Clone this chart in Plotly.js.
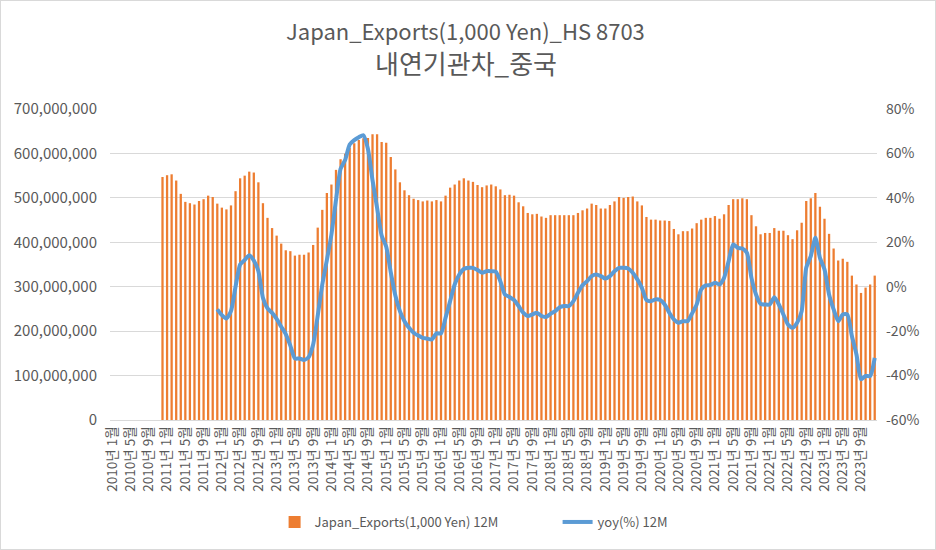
<!DOCTYPE html>
<html>
<head>
<meta charset="utf-8">
<script src="https://cdn.plot.ly/plotly-3.0.1.min.js"></script>
<style>
html,body{margin:0;padding:0;background:#fff;}
#chart{width:936px;height:550px;box-sizing:border-box;border:1px solid #d9d9d9;}
</style>
</head>
<body>
<div id="chart"></div>
<script>
// Category labels: months 2010-01 .. 2023-12
const years = [2010,2011,2012,2013,2014,2015,2016,2017,2018,2019,2020,2021,2022,2023];
const monthNums = [1,2,3,4,5,6,7,8,9,10,11,12];
const categories = [];
years.forEach(y => monthNums.forEach(m => categories.push(y + '년 ' + m + '월')));

// Japan_Exports(1,000 Yen) 12M, in millions (x 1,000,000), from 2010년 12월
const exportsStart = '2010년 12월';
const exportsM = [
 547,551,553,539,509,491,488,485,493,497,505,502,
 487,478,474,483,515,544,550,559,557,535,488,455,
 432,415,397,382,380,370,372,372,377,394,433,473,
 511,530,563,587,599,613,623,630,634,635,643,643,
 626,624,592,564,535,517,506,498,495,492,494,492,
 495,492,505,523,530,539,544,539,536,529,524,528,
 530,526,519,506,507,505,490,481,466,463,464,458,
 455,461,461,461,461,461,461,466,472,476,487,484,
 476,476,484,492,502,500,502,503,492,483,457,451,
 451,449,449,448,430,418,425,425,431,443,451,455,
 455,459,453,463,484,497,497,499,497,461,436,418,
 421,421,432,426,426,416,407,427,444,493,499,511,
 480,453,419,386,359,363,356,325,305,286,298,305,
 325
];

// yoy(%) 12M, from 2011년 12월
const yoyStart = '2011년 12월';
const yoy = [
 -10.2,-12.8,-14.3,-11,0,10,12,14.2,11.8,7,-5,-9.8,
 -11.8,-14.5,-18,-21.3,-26.5,-32.3,-32.3,-33,-31.7,-26,-13,1,
 12,23.5,39,53,57,64,66,67.3,68.2,62,48,35.5,
 23,18,6.5,-4,-11,-15.5,-18.5,-20.7,-22,-23,-23.4,-23.7,
 -21,-21,-14,-6.5,1,5.5,8,8.5,8.5,7.5,6.3,7,
 7,6.8,2.5,-3.5,-4.6,-6,-8.7,-11.7,-13.2,-12.5,-11.7,-13.2,
 -13.6,-12.2,-11,-9.2,-8.7,-8.7,-6.5,-2.7,0.7,2.5,4.8,5.5,
 4.8,3.7,4.8,7,8.5,8.5,8.2,6.3,3.3,-0.5,-6,-6.5,
 -5.7,-6,-8,-11.7,-14.7,-16.2,-15.5,-15.5,-12,-8,-1.2,0.6,
 0.75,1.8,1,4,11.5,19,17.5,17.2,15.3,4,-3.5,-7.7,
 -8,-8,-4.7,-8,-12.5,-17,-18.5,-16.2,-11,8.5,13.8,22,
 13,7.8,-3.5,-10.2,-15.5,-12.5,-12.5,-22.2,-30.5,-41.7,-40.2,-40.2,
 -32
];

const tickLabels = categories.filter((c, i) => i % 4 === 0);
const leftTicks = [0,100000000,200000000,300000000,400000000,500000000,600000000,700000000];
const rightTicks = [-60,-40,-20,0,20,40,60,80];
const rightTickText = ['-60%','-40%','-20%','0%','20%','40%','60%','80%'];
const titleLine1 = 'Japan_Exports(1,000 Yen)_HS 8703';
const titleLine2 = '내연기관차_중국';

const i0 = categories.indexOf(exportsStart);
const barX = categories.slice(i0, i0 + exportsM.length);
const barY = exportsM.map(v => v * 1000000);
const j0 = categories.indexOf(yoyStart);
const lineX = categories.slice(j0, j0 + yoy.length);

const FONT = '"Noto Sans CJK KR", "Noto Sans", sans-serif';
const GREY = '#595959';

const traces = [
 {
  type: 'bar', name: 'Japan_Exports(1,000 Yen) 12M',
  x: barX, y: barY,
  marker: {color: '#ED7D31', line: {width: 0}},
  yaxis: 'y'
 },
 {
  type: 'scatter', mode: 'lines', name: 'yoy(%) 12M',
  x: lineX, y: yoy,
  line: {color: '#5B9BD5', width: 4, shape: 'spline', smoothing: 0.6},
  yaxis: 'y2'
 }
];

const layout = {
 width: 934, height: 548,
 margin: {l: 109, r: 58, t: 108, b: 129},
 paper_bgcolor: '#fff', plot_bgcolor: '#fff',
 font: {family: FONT, color: GREY, size: 13},
 title: {text: ''},
 annotations: [
  {text: titleLine1, xref: 'paper', yref: 'paper', x: 0.4638, y: 1.254, xanchor: 'center', yanchor: 'middle',
   showarrow: false, font: {family: FONT, size: 22, color: GREY}},
  {text: titleLine2, xref: 'paper', yref: 'paper', x: 0.4638, y: 1.151, xanchor: 'center', yanchor: 'middle',
   showarrow: false, font: {family: FONT, size: 26, color: GREY}}
 ],
 bargap: 0.5,
 showlegend: true,
 legend: {orientation: 'h', x: 0.2146, xanchor: 'left', y: -0.328, yanchor: 'middle',
          entrywidth: 238, entrywidthmode: 'pixels',
          font: {family: FONT, size: 13, color: GREY}, traceorder: 'normal'},
 xaxis: {
  type: 'category', categoryorder: 'array', categoryarray: categories,
  range: [-0.5, categories.length - 0.5],
  tickmode: 'array', tickvals: tickLabels, ticktext: tickLabels,
  tickangle: -90, tickfont: {size: 13.5, color: GREY, family: FONT},
  showgrid: false, showline: true, linecolor: '#d9d9d9', linewidth: 1,
  ticks: '', zeroline: false, fixedrange: true
 },
 yaxis: {
  range: [0, 700000000], tickmode: 'array', tickvals: leftTicks,
  tickformat: ',d', tickfont: {size: 15, color: GREY, family: FONT},
  ticklabelstandoff: 12,
  showgrid: true, gridcolor: '#d9d9d9', gridwidth: 1,
  zeroline: false, showline: false, ticks: '', automargin: false
 },
 yaxis2: {
  overlaying: 'y', side: 'right', range: [-60, 80],
  tickmode: 'array', tickvals: rightTicks, ticktext: rightTickText,
  tickfont: {size: 14, color: GREY, family: FONT},
  ticklabelstandoff: 8,
  showgrid: false, zeroline: false, showline: false, ticks: '', automargin: false
 }
};

Plotly.newPlot('chart', traces, layout, {displayModeBar: false, staticPlot: true});
</script>
</body>
</html>
